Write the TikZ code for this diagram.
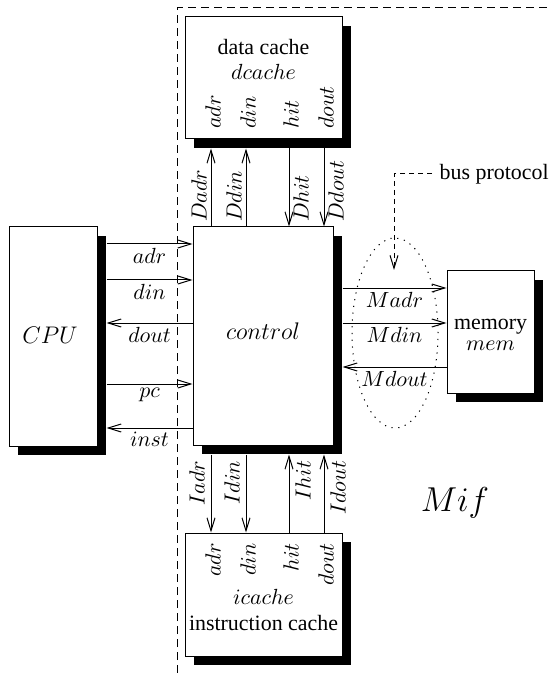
\documentclass[tikz,border=0pt,11pt]{standalone}
\usepackage{fontspec}
\setmainfont{Liberation Serif}
\usetikzlibrary{arrows.meta,positioning,calc,shapes.geometric,shadows}
\tikzset{
  blk/.style={draw,fill=white,inner sep=0pt,line width=0.5pt,
    general shadow={fill=black,shadow xshift=4.5pt,shadow yshift=-4.5pt}},
  sig/.style={line width=0.5pt},
  tip/.style={-{Straight Barb[length=6.5pt,width=4pt]}},
  lbl/.style={inner sep=2pt},
  pin/.style={rotate=90,inner sep=2pt},
}

\begin{document}
\begin{tikzpicture}[x=0.5pt,y=-0.5pt]
\useasboundingbox (0,0) rectangle (549,673);
% border of the memory interface
\draw[line width=0.5pt,dash pattern=on 4pt off 2.5pt] (177,673) -- (177,8) -- (549,8);

% units
\node[blk,minimum width=44pt,minimum height=109.5pt] (cpu) at (53,336.5) {};
\node[blk,minimum width=70pt,minimum height=109pt] (ctrl) at (263,336) {};
\node[blk,minimum width=78.5pt,minimum height=61pt] (dc) at (263.5,78) {};
\node[blk,minimum width=78.5pt,minimum height=61.5pt] (ic) at (263.5,594.5) {};
\node[blk,minimum width=43.5pt,minimum height=61pt] (mem) at (490.5,332) {};

\node (cputxt) at (50,335) {\large$CPU$};
\node (ctrltxt) at (263,331) {\large$control$};
\node (dcname) at (263.5,47) {data cache};
\node (dcid) at (263.5,72) {$dcache$};
\node (icid) at (263.5,597) {$icache$};
\node (icname) at (263.5,623) {instruction cache};
\node (memname) at (490.5,327) {memory};
\node (memid) at (490.5,346) {$mem$};
\node (mif) at (455,503) {\LARGE$Mif$};

% ports of the caches
\node[pin,anchor=west] (dcadr) at (213,133) {$adr$};
\node[pin,anchor=west] (dcdin) at (248,133) {$din$};
\node[pin,anchor=west] (dchit) at (291,133) {$hit$};
\node[pin,anchor=west] (dcdout) at (326,133) {$dout$};
\node[pin,anchor=east] (icadr) at (213,539) {$adr$};
\node[pin,anchor=east] (icdin) at (248,539) {$din$};
\node[pin,anchor=east] (ichit) at (291,539) {$hit$};
\node[pin,anchor=east] (icdout) at (326,539) {$dout$};

% cpu <-> control
\draw[sig,tip] ($(cpu.east |- 0,244)+(9,0)$) -- (ctrl.west |- 0,244) node[midway,lbl,below]{$adr$};
\draw[sig,tip] ($(cpu.east |- 0,280)+(9,0)$) -- (ctrl.west |- 0,280) node[midway,lbl,below]{$din$};
\draw[sig,tip] (ctrl.west |- 0,323) -- ($(cpu.east |- 0,323)+(9,0)$) node[midway,lbl,below]{$dout$};
\draw[sig,tip] ($(cpu.east |- 0,384)+(9,0)$) -- (ctrl.west |- 0,384) node[midway,lbl,below]{$pc$};
\draw[sig,tip] (ctrl.west |- 0,428) -- ($(cpu.east |- 0,428)+(9,0)$) node[midway,lbl,below]{$inst$};

% control <-> dcache
\draw[sig,tip] (ctrl.north -| 211,0) -- ($(dc.south -| 211,0)+(0,9)$) node[at start,pin,anchor=south west]{$Dadr$};
\draw[sig,tip] (ctrl.north -| 246,0) -- ($(dc.south -| 246,0)+(0,9)$) node[at start,pin,anchor=south west]{$Ddin$};
\draw[sig,tip] ($(dc.south -| 289,0)+(0,9)$) -- (ctrl.north -| 289,0) node[at end,pin,anchor=north west]{$Dhit$};
\draw[sig,tip] ($(dc.south -| 324,0)+(0,9)$) -- (ctrl.north -| 324,0) node[at end,pin,anchor=north west]{$Ddout$};

% control <-> icache
\draw[sig,tip] ($(ctrl.south -| 211,0)+(0,9)$) -- (ic.north -| 211,0) node[at start,pin,inner sep=3pt,anchor=south east]{$Iadr$};
\draw[sig,tip] ($(ctrl.south -| 246,0)+(0,9)$) -- (ic.north -| 246,0) node[at start,pin,inner sep=3pt,anchor=south east]{$Idin$};
\draw[sig,tip] (ic.north -| 289,0) -- ($(ctrl.south -| 289,0)+(0,9)$) node[at end,pin,inner sep=3pt,anchor=north east]{$Ihit$};
\draw[sig,tip] (ic.north -| 324,0) -- ($(ctrl.south -| 324,0)+(0,9)$) node[at end,pin,inner sep=3pt,anchor=north east]{$Idout$};

% control <-> memory
\draw[sig,tip] ($(ctrl.east |- 0,288)+(9,0)$) -- (mem.west |- 0,288) node[midway,lbl,below]{$Madr$};
\draw[sig,tip] ($(ctrl.east |- 0,323)+(9,0)$) -- (mem.west |- 0,323) node[midway,lbl,below]{$Mdin$};
\draw[sig,tip] (mem.west |- 0,367) -- ($(ctrl.east |- 0,367)+(9,0)$) node[midway,lbl,below]{$Mdout$};

% bus protocol
\node[ellipse,draw,line width=0.5pt,dash pattern=on 0.6pt off 2.8pt,inner sep=0pt,
  minimum width=43pt,minimum height=95pt] (proto) at (395,333) {};
\node[anchor=west] (bus) at (432,174) {bus protocol};
\coordinate (bustip) at (394,270);
\draw[sig,dash pattern=on 2.5pt off 2pt,tip] (bus.west) -| (bustip);
\end{tikzpicture}
\end{document}
